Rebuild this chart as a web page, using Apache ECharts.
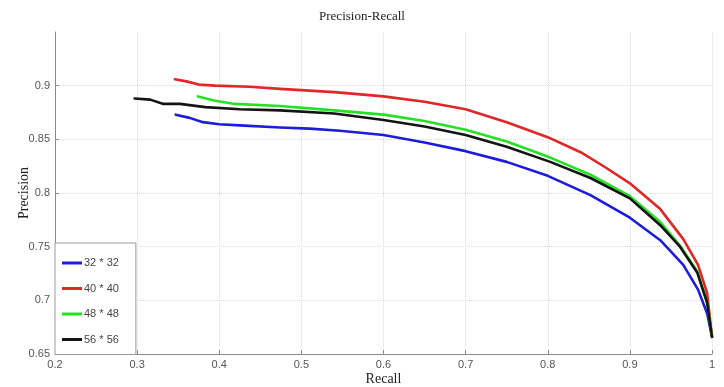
<!DOCTYPE html>
<html><head><meta charset="utf-8">
<script src="https://cdn.jsdelivr.net/npm/echarts@6/dist/echarts.min.js"></script>
<style>html,body{margin:0;padding:0;background:#fff}#c{width:724px;height:387px}</style>
</head><body><div id="c"></div>
<script>
const seriesNames = ['32 * 32', '40 * 40', '48 * 48', '56 * 56'];
const recall32 = [0.347,0.364,0.380,0.400,0.425,0.474,0.510,0.547,0.600,0.650,0.700,0.750,0.800,0.852,0.900,0.937,0.965,0.983,0.994,1.000];
const prec32   = [0.873,0.870,0.866,0.864,0.863,0.861,0.860,0.858,0.854,0.847,0.839,0.829,0.816,0.798,0.777,0.756,0.733,0.710,0.688,0.666];
const recall40 = [0.346,0.360,0.375,0.395,0.437,0.474,0.540,0.600,0.650,0.700,0.750,0.800,0.840,0.870,0.900,0.937,0.965,0.983,0.994,1.000];
const prec40   = [0.906,0.904,0.901,0.900,0.899,0.897,0.894,0.890,0.885,0.878,0.866,0.852,0.838,0.824,0.809,0.785,0.757,0.733,0.707,0.666];
const recall48 = [0.374,0.395,0.419,0.474,0.540,0.600,0.650,0.700,0.750,0.803,0.852,0.900,0.937,0.961,0.982,0.994,1.000];
const prec48   = [0.890,0.886,0.883,0.881,0.877,0.873,0.867,0.859,0.848,0.833,0.817,0.797,0.773,0.751,0.727,0.698,0.666];
const recall56 = [0.297,0.316,0.332,0.352,0.383,0.425,0.474,0.540,0.600,0.650,0.700,0.750,0.803,0.852,0.900,0.937,0.961,0.982,0.994,1.000];
const prec56   = [0.888,0.887,0.883,0.883,0.880,0.878,0.877,0.874,0.868,0.862,0.854,0.843,0.829,0.814,0.795,0.770,0.750,0.726,0.698,0.666];
const colors = ['#1c1cdc', '#e02626', '#26e026', '#141414'];

const recalls = [recall32, recall40, recall48, recall56];
const precs = [prec32, prec40, prec48, prec56];

const chart = echarts.init(document.getElementById('c'));
const tickFont = {color: '#555', fontFamily: 'Liberation Sans, Arial, sans-serif', fontSize: 11};
chart.setOption({
  animation: false,
  backgroundColor: '#fff',
  title: {
    text: 'Precision-Recall', left: 'center', top: 5,
    textStyle: {fontFamily: 'Liberation Serif, Times New Roman, serif', fontSize: 13, fontWeight: 'normal', color: '#222'}
  },
  grid: {left: 55, right: 12, top: 32, bottom: 33, containLabel: false, outerBoundsMode: 'none'},
  legend: {
    orient: 'vertical', left: 55, top: 243,
    data: seriesNames,
    icon: 'rect', itemWidth: 20, itemHeight: 3, itemGap: 11.5,
    padding: [13, 17, 8, 7],
    borderColor: '#9a9a9a', borderWidth: 1, backgroundColor: '#fff',
    textStyle: {color: '#444', fontFamily: 'Liberation Sans, Arial, sans-serif', fontSize: 11, lineHeight: 14, padding: [0,0,0,-3]}
  },
  xAxis: {
    type: 'value', min: 0.2, max: 1, interval: 0.1,
    name: 'Recall', nameLocation: 'middle', nameGap: 18, nameMoveOverlap: false,
    nameTextStyle: {fontFamily: 'Liberation Serif, Times New Roman, serif', fontSize: 14, color: '#222'},
    axisLine: {show: true, lineStyle: {color: '#8a8a8a', width: 1}},
    axisTick: {show: true, inside: true, length: 4, lineStyle: {color: '#8a8a8a'}},
    axisLabel: Object.assign({margin: 5, formatter: v => String(+v.toFixed(2))}, tickFont),
    splitLine: {show: true, lineStyle: {color: '#dcdcdc', type: 'dotted', width: 1}}
  },
  yAxis: {
    type: 'value', min: 0.65, max: 0.95, interval: 0.05,
    name: 'Precision', nameLocation: 'middle', nameGap: 24, nameMoveOverlap: false,
    nameTextStyle: {fontFamily: 'Liberation Serif, Times New Roman, serif', fontSize: 14, color: '#222'},
    axisLine: {show: true, lineStyle: {color: '#8a8a8a', width: 1}},
    axisTick: {show: true, inside: true, length: 4, lineStyle: {color: '#8a8a8a'}},
    axisLabel: Object.assign({margin: 5, showMaxLabel: false, formatter: v => String(+v.toFixed(2))}, tickFont),
    splitLine: {show: true, showMaxLine: false, lineStyle: {color: '#dcdcdc', type: 'dotted', width: 1}}
  },
  series: seriesNames.map((n, i) => ({
    name: n, type: 'line', showSymbol: false, symbol: 'none',
    smooth: false,
    data: recalls[i].map((r, j) => [r, precs[i][j]]),
    lineStyle: {color: colors[i], width: 2.6, join: 'round', cap: 'round'},
    itemStyle: {color: colors[i]},
    z: 2 + i
  }))
});
</script></body></html>
